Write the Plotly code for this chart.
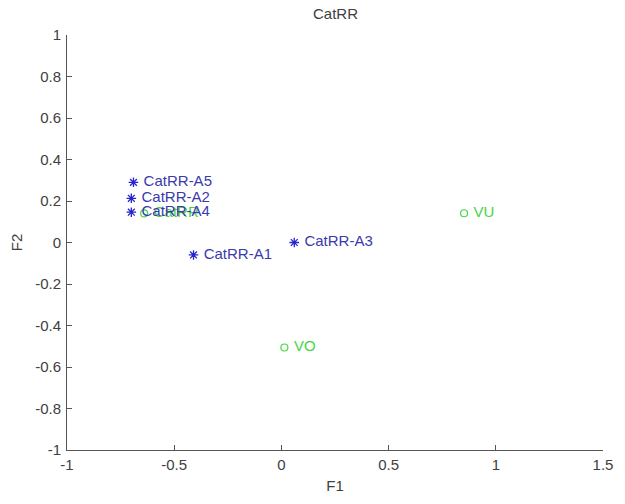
import plotly.graph_objects as go

# Blue series (asterisks)
blue_labels = ["CatRR-A5", "CatRR-A2", "CatRR-A4", "CatRR-A1", "CatRR-A3"]
blue_x = [-0.69, -0.70, -0.70, -0.41, 0.06]
blue_y = [0.29, 0.213, 0.146, -0.06, 0.0]

# Green series (circles)
green_labels = ["CatRR", "VU", "VO"]
green_x = [-0.64, 0.852, 0.014]
green_y = [0.14, 0.141, -0.506]

x_ticks = [-1, -0.5, 0, 0.5, 1, 1.5]
y_ticks = [-1, -0.8, -0.6, -0.4, -0.2, 0, 0.2, 0.4, 0.6, 0.8, 1]

BLUE = "#2626cc"
BLUE_TXT = "#3a3aac"
GREEN = "#45d645"
FONT = "Liberation Sans, Arial, sans-serif"
FS = 15

fig = go.Figure()
fig.add_trace(go.Scatter(
    x=green_x, y=green_y, mode="markers+text", text=[" " + t for t in green_labels],
    textposition="middle right",
    marker=dict(symbol="circle-open", size=7, color=GREEN, line=dict(width=1.2, color=GREEN)),
    textfont=dict(family=FONT, size=FS, color=GREEN),
    showlegend=False, cliponaxis=False))
fig.add_trace(go.Scatter(
    x=blue_x, y=blue_y, mode="markers+text", text=[" " + t for t in blue_labels],
    textposition="middle right",
    marker=dict(symbol="asterisk-open", size=8, color=BLUE, line=dict(width=1.3, color=BLUE)),
    textfont=dict(family=FONT, size=FS, color=BLUE_TXT),
    showlegend=False, cliponaxis=False))

axis_common = dict(
    showgrid=False, zeroline=False, showline=True, linecolor="#555555", linewidth=1,
    ticks="inside", ticklen=5, tickcolor="#555555", mirror=False,
    tickfont=dict(family=FONT, size=FS, color="#404040"),
)
fig.update_xaxes(range=[-1, 1.5], tickvals=x_ticks, ticktext=[str(v) for v in x_ticks],
                 ticklabelstandoff=1,
                 title=dict(text="F1", font=dict(family=FONT, size=FS, color="#404040"), standoff=8),
                 **axis_common)
fig.update_yaxes(range=[-1, 1], tickvals=y_ticks, ticktext=[str(v) for v in y_ticks],
                 ticklabelstandoff=2,
                 title=dict(text="F2", font=dict(family=FONT, size=FS, color="#404040"), standoff=8),
                 **axis_common)

fig.update_layout(
    width=625, height=504,
    margin=dict(l=67, r=21, t=35, b=52),
    paper_bgcolor="white", plot_bgcolor="white",
    title=dict(text="CatRR", x=(67 + 604) / 2 / 625, xanchor="center", y=1 - 14 / 504, yanchor="middle",
               font=dict(family=FONT, size=FS, color="#404040")),
)
fig.write_html("out.html")
